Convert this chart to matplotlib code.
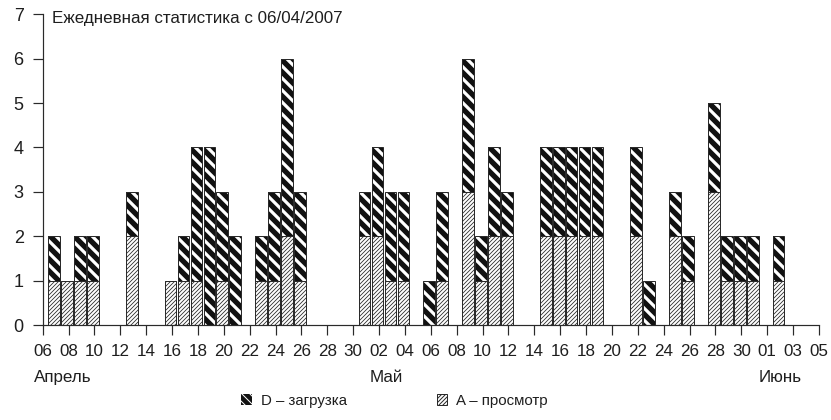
import matplotlib.pyplot as plt
import matplotlib as mpl
import matplotlib.dates as mdates
from matplotlib.patches import Patch
import numpy as np
import pandas as pd

# daily counts
days = ["2007-04-07", "2007-04-08", "2007-04-09", "2007-04-10", "2007-04-13",
        "2007-04-16", "2007-04-17", "2007-04-18", "2007-04-19", "2007-04-20",
        "2007-04-21", "2007-04-23", "2007-04-24", "2007-04-25", "2007-04-26",
        "2007-05-01", "2007-05-02", "2007-05-03", "2007-05-04", "2007-05-06",
        "2007-05-07", "2007-05-09", "2007-05-10", "2007-05-11", "2007-05-12",
        "2007-05-15", "2007-05-16", "2007-05-17", "2007-05-18", "2007-05-19",
        "2007-05-22", "2007-05-23", "2007-05-25", "2007-05-26", "2007-05-28",
        "2007-05-29", "2007-05-30", "2007-05-31", "2007-06-02"]
views = [1, 1, 1, 1, 2,
         1, 1, 1, 0, 1,
         0, 1, 1, 2, 1,
         2, 2, 1, 1, 0,
         1, 3, 1, 2, 2,
         2, 2, 2, 2, 2,
         2, 0, 2, 1, 3,
         1, 1, 1, 1]
downloads = [1, 0, 1, 1, 1,
             0, 1, 3, 4, 2,
             2, 1, 2, 4, 2,
             1, 2, 2, 2, 1,
             2, 3, 1, 2, 1,
             2, 2, 2, 2, 2,
             2, 1, 1, 1, 2,
             1, 1, 1, 1]

title = "Ежедневная статистика с 06/04/2007"
months = [("2007-04-06", "Апрель"), ("2007-05-02", "Май"), ("2007-06-01", "Июнь")]
label_d = "D – загрузка"
label_a = "A – просмотр"

plt.rcParams["font.family"] = ["Liberation Sans", "DejaVu Sans"]

dates = pd.to_datetime(days)
x = mdates.date2num(dates) - 0.12  # bars sit a touch left of the day tick
views = np.array(views)
downloads = np.array(downloads)

edge = "#2a2a2a"
txt = "#1e1e1e"
width = 0.9
hatch_a = "//////"
hatch_d = "\\\\"

fig = plt.figure(figsize=(831 / 72, 420 / 72), dpi=72)
ax = fig.add_axes([42.7 / 831, 95 / 420, (819 - 42.7) / 831, (325 - 14.3) / 420])

with mpl.rc_context({"hatch.linewidth": 0.8}):
    bars_a = ax.bar(x, views, width=width, color="white", edgecolor=edge,
                    hatch=hatch_a, linewidth=1.0, zorder=2)
with mpl.rc_context({"hatch.linewidth": 3.2}):
    bars_d = ax.bar(x, downloads, width=width, bottom=views, color="#111111",
                    edgecolor="white", hatch=hatch_d, linewidth=0, zorder=2)
ax.bar(x, downloads, width=width, bottom=views, fill=False, edgecolor=edge,
       linewidth=1.0, zorder=3)
for p in bars_a:
    if hasattr(p, "set_hatch_linewidth"):
        p.set_hatch_linewidth(0.8)
for p in bars_d:
    if hasattr(p, "set_hatch_linewidth"):
        p.set_hatch_linewidth(3.2)

start = mdates.date2num(pd.Timestamp("2007-04-06"))
end = mdates.date2num(pd.Timestamp("2007-06-05"))
ax.set_xlim(start, end)
ax.set_ylim(0, 7)
ax.set_xticks(np.arange(start, end + 1, 2))
ax.xaxis.set_major_formatter(mdates.DateFormatter("%d"))
ax.set_yticks(range(8))

for s in ["top", "right"]:
    ax.spines[s].set_visible(False)
for s in ["left", "bottom"]:
    ax.spines[s].set_color(edge)
    ax.spines[s].set_linewidth(1.2)
ax.tick_params(axis="both", direction="out", length=10, width=1.2, color=edge,
               labelcolor=txt)
ax.tick_params(axis="x", pad=9, labelsize=17)
ax.tick_params(axis="y", pad=9, labelsize=18)

fig.text(52 / 831, 1 - 11 / 420, title, fontsize=17, color=txt, va="top", ha="left")

for d, name in months:
    ax.annotate(name, xy=(mdates.date2num(pd.Timestamp(d)), 0),
                xycoords=("data", "axes fraction"), xytext=(-9, -45),
                textcoords="offset points", ha="left", va="top",
                fontsize=17, color=txt)

handles = [
    Patch(facecolor="#111111", edgecolor="white", hatch="\\\\\\", linewidth=0),
    Patch(facecolor="white", edgecolor=edge, hatch="//////", linewidth=1.0),
]
fig.legend(handles, [label_d, label_a], loc="center", bbox_to_anchor=(0.475, 0.046),
           ncol=2, frameon=False, fontsize=15, handlelength=0.7, handleheight=0.7,
           handletextpad=0.6, columnspacing=6.0, labelcolor=txt)

fig.savefig("out.png", dpi=72)
